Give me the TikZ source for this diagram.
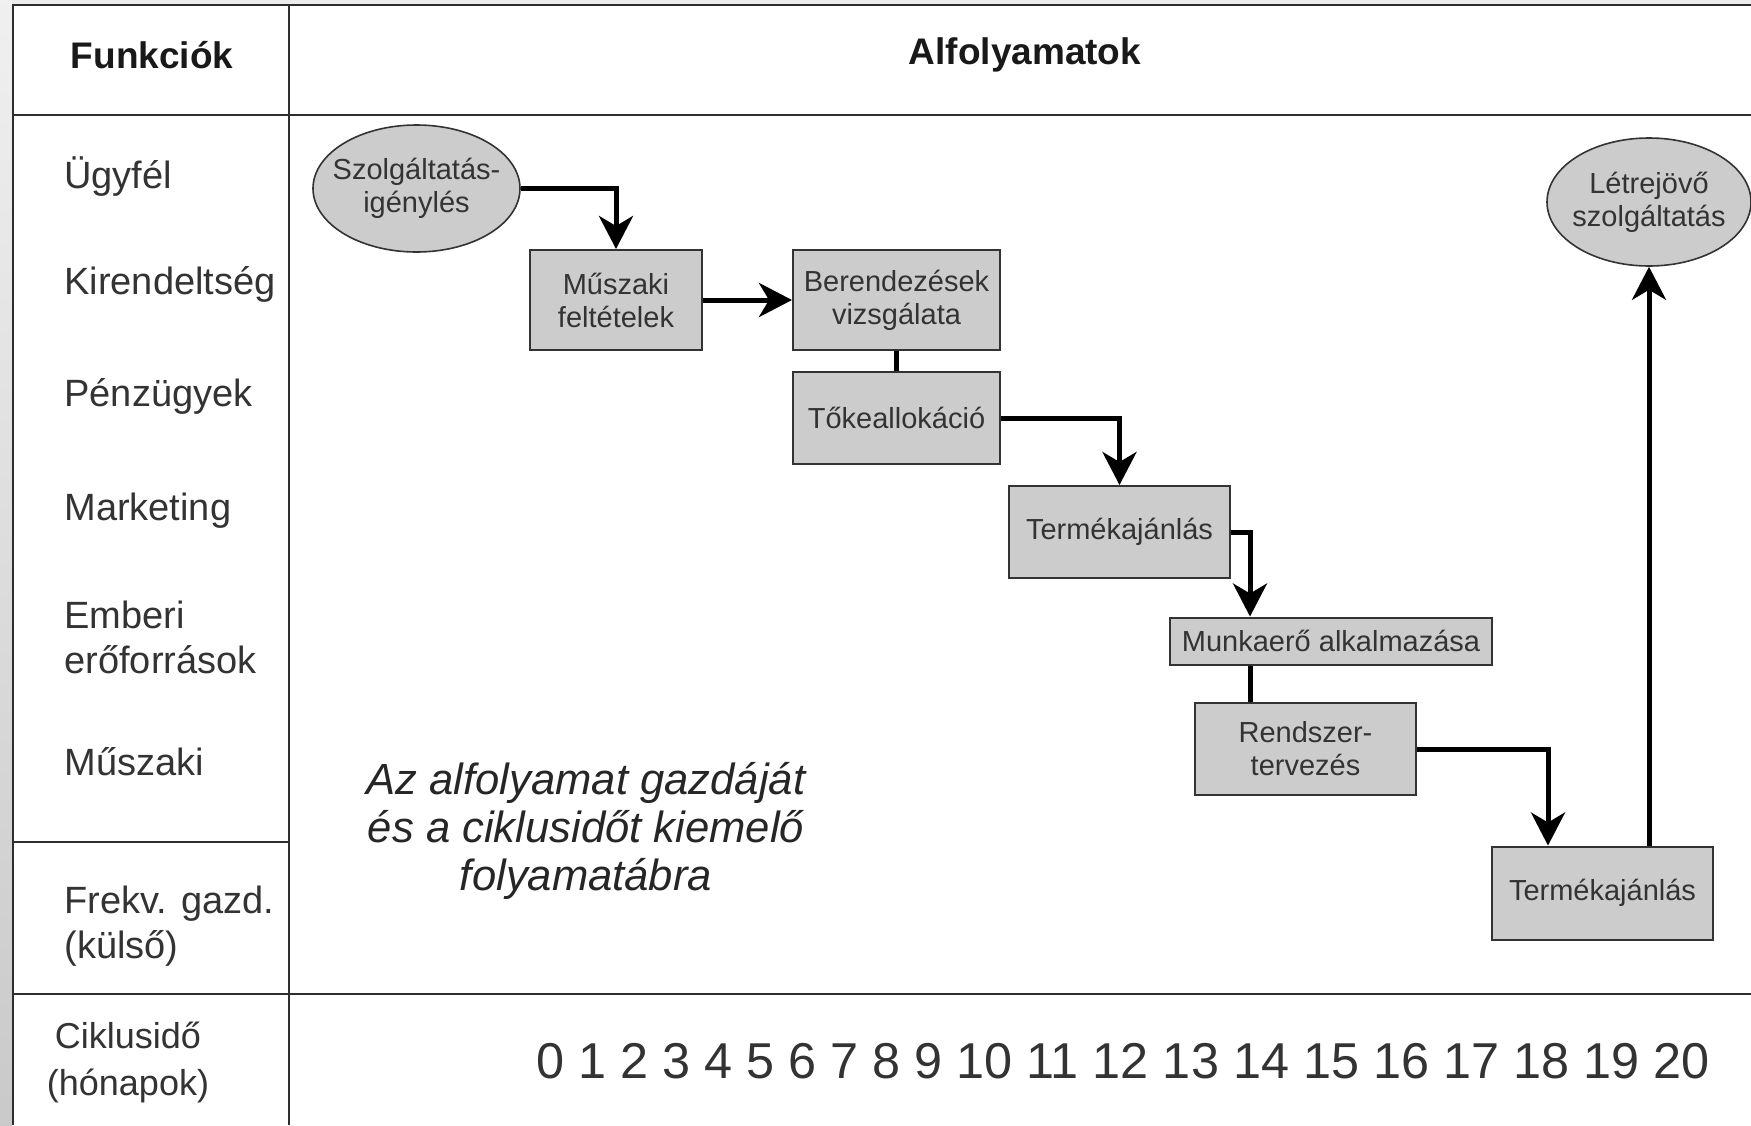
\documentclass[tikz,border=0pt]{standalone}
\usepackage{fontspec}
\setmainfont{Liberation Sans}
\usetikzlibrary{arrows.meta,shapes.geometric}
\definecolor{boxgray}{HTML}{CCCCCC}
\definecolor{ink}{HTML}{333333}
\definecolor{rule}{HTML}{2E2E2E}

\begin{document}
\begin{tikzpicture}[x=0.5pt, y=-0.5pt,
	box/.style={rectangle, draw=ink, fill=boxgray, line width=1pt, inner sep=0pt, align=center, text=ink, font=\fontsize{14.5}{16.5}\selectfont},
	oval/.style={ellipse, draw=ink, fill=boxgray, line width=0.8pt, inner sep=0pt, inner xsep=-6pt, align=center, text=ink, font=\fontsize{14.5}{16.5}\selectfont},
	flow/.style={line width=2.5pt, -{Stealth[length=16.5pt, width=17pt, inset=5pt]}},
	link/.style={line width=2.5pt},
	func/.style={anchor=west, align=left, inner sep=0pt, text=ink, font=\fontsize{19}{22.5}\selectfont},
	head/.style={text=black!90, font=\bfseries\fontsize{18.5}{22}\selectfont},
	grid/.style={draw=rule, line width=1.2pt}]
			\useasboundingbox (0,0) rectangle (1751,1125);
			\fill[white] (0,0) rectangle (1751,1125);
			\shade[top color=gray!12, bottom color=gray!42] (0,0) rectangle (12,1125);
			\fill[gray!15] (12,0) rectangle (1751,5);
			% table
			\draw[grid] (1751,5) -- (13,5) -- (13,1125);
			\draw[grid] (289,5) -- (289,1125);
			\draw[grid] (13,115) -- (1751,115);
			\draw[grid] (13,842) -- (289,842);
			\draw[grid] (13,994) -- (1751,994);
			\draw (152,55) node [head] (funk) {Funkciók};
			\draw (1025,55) node [head] (alf) {Alfolyamatok};
			\draw (64,177) node [func] (ugyfel) {Ügyfél};
			\draw (64,284) node [func] (kir) {Kirendeltség};
			\draw (64,396) node [func] (penz) {Pénzügyek};
			\draw (64,511) node [func] (mark) {Marketing};
			\draw (64,637) node [func] (ember) {Emberi\\erőforrások};
			\draw (64,762) node [func] (musz) {Műszaki};
			\draw (64,926) node [func] (frekv) {Frekv. gazd.\\(külső)};
			\draw (128,1062) node [func, anchor=center, align=center, font=\fontsize{18}{23.5}\selectfont] (ciklus) {Ciklusidő\\(hónapok)};
			\draw (586,831) node [align=center, text=black!85, font=\itshape\fontsize{21.8}{24}\selectfont] (note) {Az alfolyamat gazdáját\\és a ciklusidőt kiemelő\\folyamatábra};
			\draw (1123,1061) node [text=ink, font=\fontsize{25.2}{28}\selectfont] (honap) {0 1 2 3 4 5 6 7 8 9 10 11 12 13 14 15 16 17 18 19 20};
			% process
			\draw (416.5,188.5) node [oval, minimum width=103.5pt, minimum height=63.5pt] (szolg) {Szolgáltatás-\\igénylés};
			\draw (616,300) node [box, minimum width=86pt, minimum height=50pt] (muszaki) {Műszaki\\feltételek};
			\draw (896.5,300) node [box, minimum width=103.5pt, minimum height=50pt] (berend) {Berendezések\\vizsgálata};
			\draw (896.5,418) node [box, minimum width=103.5pt, minimum height=46pt] (toke) {Tőkeallokáció};
			\draw (1119.5,532) node [box, minimum width=110.5pt, minimum height=46pt] (termek1) {Termékajánlás};
			\draw (1331,641) node [box, minimum width=161pt, minimum height=23.5pt] (munka) {Munkaerő alkalmazása};
			\draw (1305.5,749) node [box, minimum width=110.5pt, minimum height=46pt] (rendszer) {Rendszer-\\tervezés};
			\draw (1602.5,893) node [box, minimum width=110.5pt, minimum height=46.5pt] (termek2) {Termékajánlás};
			\draw (1649,202) node [oval, minimum width=102pt, minimum height=64pt] (letre) {Létrejövő\\szolgáltatás};
			\coordinate (bendA) at (1250,0);
			\coordinate (bendB) at (1548,0);
			\draw[flow] (szolg.east) -| (muszaki.north);
			\draw[flow] (muszaki) -- (berend);
			\draw[link] (berend) -- (toke);
			\draw[flow] (toke.east) -| (termek1.north);
			\draw[flow] (termek1.east) -| (bendA |- munka.north);
			\draw[link] (bendA |- munka.south) -- (bendA |- rendszer.north);
			\draw[flow] (rendszer.east) -| (bendB |- termek2.north);
			\draw[flow] (termek2.north -| letre.south) -- (letre.south);
		\end{tikzpicture}
\end{document}
